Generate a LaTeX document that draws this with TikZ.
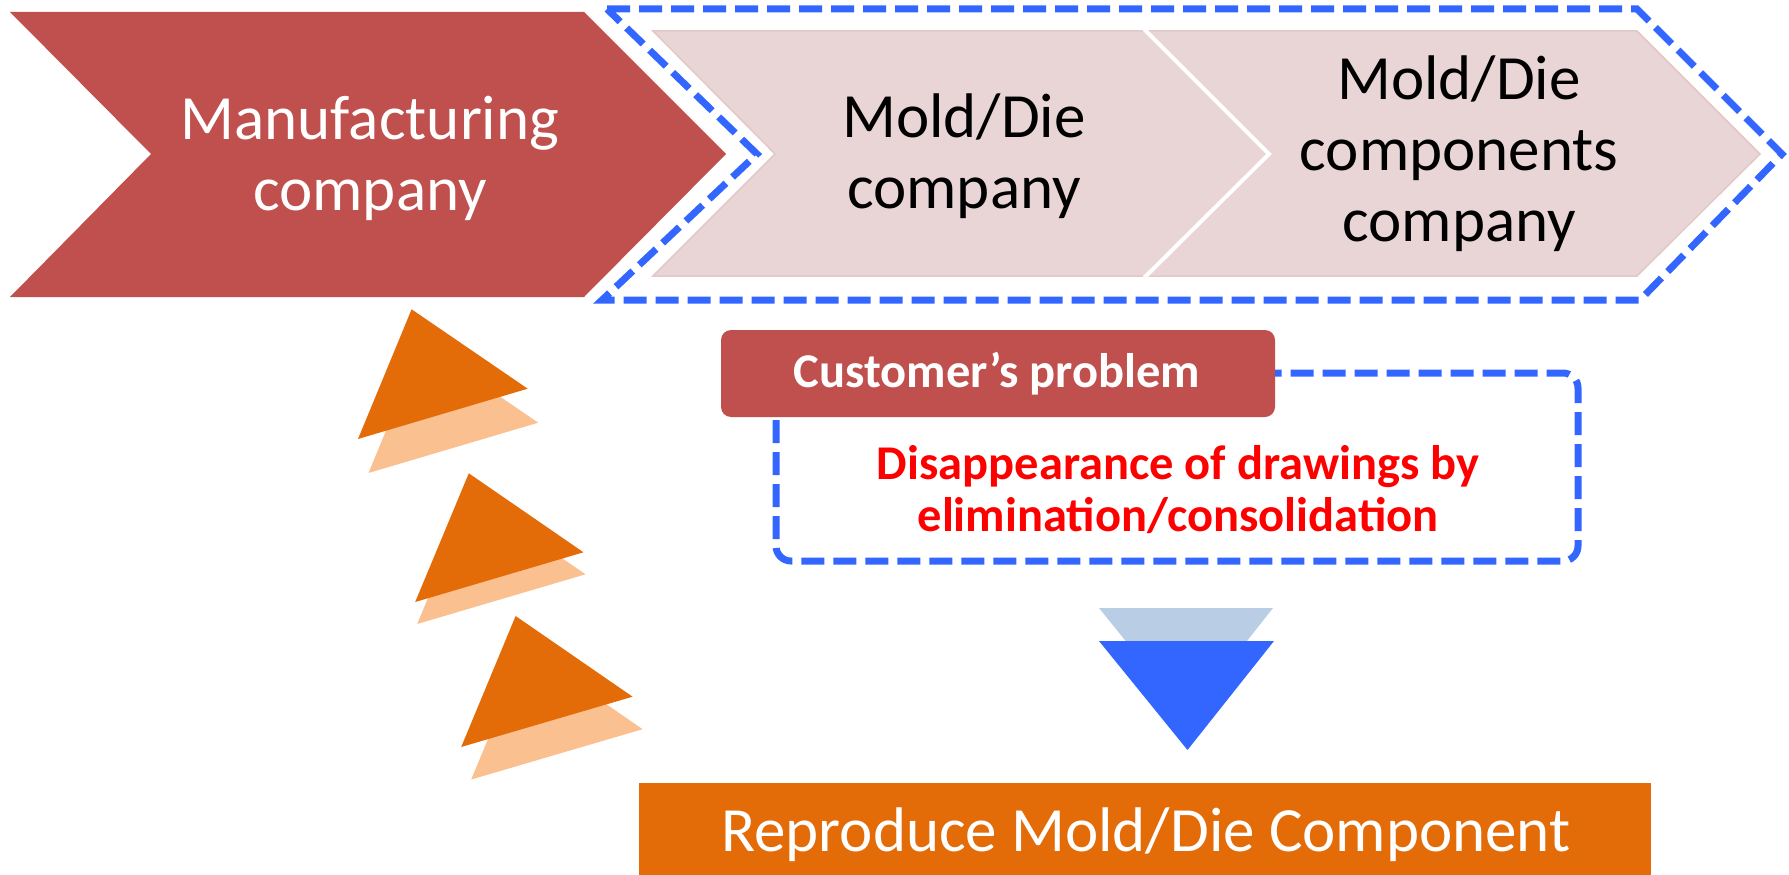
\documentclass[tikz,border=0pt]{standalone}
\usepackage{fontspec}
\setmainfont{Carlito}
\definecolor{chevred}{HTML}{C0504D}
\definecolor{pinkfill}{HTML}{E9D5D5}
\definecolor{pinkedge}{HTML}{E2C8C8}
\definecolor{dashblue}{HTML}{3366FF}
\definecolor{lightblue}{HTML}{B9CDE5}
\definecolor{orangeD}{HTML}{E36C09}
\definecolor{orangeL}{HTML}{FAC090}
\definecolor{probred}{HTML}{FF0000}
\begin{document}
\begin{tikzpicture}[x=1pt,y=-1pt,
  dashline/.style={draw=dashblue,line width=7pt,dash pattern=on 23pt off 9pt},
  bigtext/.style={font=\fontsize{63}{71}\selectfont,align=center,inner sep=0pt},
  boldtext/.style={font=\fontsize{48.5}{52}\selectfont\bfseries,align=center,inner sep=0pt},
  pinkchev/.style={fill=pinkfill,draw=pinkedge,line width=1.5pt}]
\useasboundingbox (0,0) rectangle (1789,875);
% top chevrons
\fill[chevred] (10,12) -- (584,12) -- (726,154) -- (584,297) -- (10,297) -- (151,154) -- cycle;
\draw[dashline] (607,9) -- (1637,9) -- (1782,154) -- (1640,300) -- (602,300) -- (757,154) -- cycle;
\path[pinkchev] (653,31) -- (1145,31) -- (1268,154) -- (1145,276) -- (653,276) -- (775,154) -- cycle;
\path[pinkchev] (1145,31) -- (1637,31) -- (1760,154) -- (1637,276) -- (1145,276) -- (1268,154) -- cycle;
\draw[white,line width=4pt] (1144,29) -- (1269,154) -- (1144,278);
\node[bigtext,text=white] (manu) at (370,158) {Manufacturing\\company};
\node[bigtext,text=black] (mold) at (964,156) {Mold/Die\\company};
\node[bigtext,text=black] (comp) at (1459,154) {Mold/Die\\components\\company};
% orange triangles
\fill[orangeL] (422.1,343.3) -- (538.2,422.7) -- (368.5,473) -- cycle;
\fill[orangeD] (411.6,309.3) -- (527.7,388.7) -- (358,439) -- cycle;
\fill[orangeL] (470.8,495.3) -- (585.5,574.3) -- (417.2,624) -- cycle;
\fill[orangeD] (468.8,473.3) -- (583.5,552.3) -- (415.2,602) -- cycle;
\fill[orangeL] (525.6,648.5) -- (642.6,729.2) -- (471.2,779.5) -- cycle;
\fill[orangeD] (515.6,616) -- (632.6,696.7) -- (461.2,747) -- cycle;
% customer problem
\draw[dashline,rounded corners=15pt] (776,373) rectangle (1578,561);
\fill[chevred,rounded corners=10pt] (721,330) rectangle (1275,417);
\node[boldtext,text=white,anchor=base] (cust) at (997,387) {Customer’s problem};
\node[boldtext,text=probred] (prob) at (1178,490) {Disappearance of drawings by\\elimination/consolidation};
% blue arrow
\fill[lightblue] (1099,608) -- (1273,608) -- (1187,717) -- cycle;
\fill[dashblue] (1099,641) -- (1274,641) -- (1187.5,750) -- cycle;
% bottom bar
\fill[orangeD] (639,783) rectangle (1651,875);
\node[bigtext,text=white,anchor=base] (repro) at (1146,851) {Reproduce Mold/Die Component};
\end{tikzpicture}
\end{document}
